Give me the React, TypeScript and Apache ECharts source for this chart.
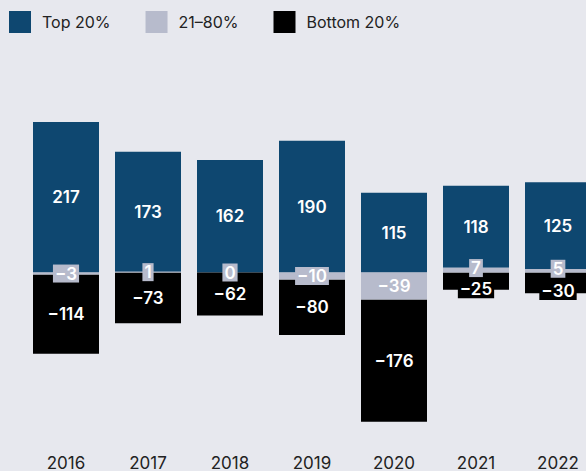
import React, { useEffect, useRef } from "react";
import * as echarts from "echarts";

const years = ["2016", "2017", "2018", "2019", "2020", "2021", "2022"];
const top20 = [217, 173, 162, 190, 115, 118, 125];
const mid = [-3, 1, 0, -10, -39, 7, 5];
const bottom20 = [-114, -73, -62, -80, -176, -25, -30];

const BLUE = "#0e4770";
const GRAY = "#b7bbcc";
const BLACK = "#000000";
const BG = "#e7e8ee";
const FONT = "Inter, 'Noto Sans', sans-serif";

const fmt = (p: any) => String(p.value).replace("-", "\u2212");

export default function App() {
  const ref = useRef<HTMLDivElement>(null);
  useEffect(() => {
    if (!ref.current) return;
    const chart = echarts.init(ref.current, undefined, { renderer: "svg" });
    const labelBase = {
      show: true,
      position: "inside",
      color: "#ffffff",
      fontSize: 17,
      fontWeight: 600,
      fontFamily: FONT,
      padding: [1, 2, 0, 2],
      formatter: fmt,
    };
    chart.setOption({
      animation: false,
      backgroundColor: BG,
      legend: {
        data: ["Top 20%", "21–80%", "Bottom 20%"],
        left: 9,
        top: 11,
        padding: 0,
        itemWidth: 22,
        itemHeight: 22,
        itemGap: 35,
        icon: "rect",
        textStyle: {
          fontFamily: FONT,
          fontSize: 16,
          color: "#222222",
          padding: [0, 0, 0, 6],
        },
      },
      grid: { left: 25, right: 0, top: 99, bottom: 24 },
      xAxis: {
        type: "category",
        data: years,
        axisLine: { show: false },
        axisTick: { show: false },
        axisLabel: {
          fontFamily: FONT,
          fontSize: 17,
          color: "#222222",
          margin: 8,
        },
      },
      yAxis: {
        type: "value",
        min: -250,
        max: 250,
        show: false,
        splitLine: { show: false },
      },
      series: [
        {
          name: "21–80%",
          type: "bar",
          stack: "s",
          data: mid,
          barWidth: 66,
          itemStyle: { color: GRAY },
          label: { ...labelBase, backgroundColor: GRAY },
          labelLayout: (params: any) =>
            params.dataIndex >= 5 ? { dy: -2 } : {},
          z: 3,
        },
        {
          name: "Top 20%",
          type: "bar",
          stack: "s",
          data: top20,
          barWidth: 66,
          itemStyle: { color: BLUE },
          label: { ...labelBase },
          z: 2,
        },
        {
          name: "Bottom 20%",
          type: "bar",
          stack: "s",
          data: bottom20,
          barWidth: 66,
          itemStyle: { color: BLACK },
          label: { ...labelBase, backgroundColor: BLACK },
          labelLayout: (params: any) =>
            params.dataIndex >= 5 ? { dy: 8 } : {},
          z: 2,
        },
      ],
    });
    return () => chart.dispose();
  }, []);
  return (
    <div
      style={{
        position: "fixed",
        left: 0,
        top: 0,
        width: 586,
        height: 471,
        overflow: "hidden",
        background: BG,
      }}
    >
      <div ref={ref} style={{ width: 599, height: 471 }} />
    </div>
  );
}
